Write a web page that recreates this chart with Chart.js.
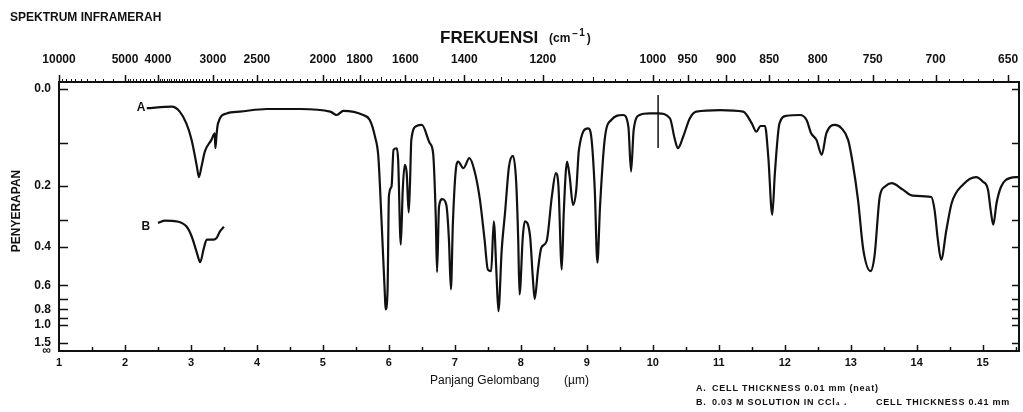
<!DOCTYPE html>
<html>
<head>
<meta charset="utf-8">
<script src="https://cdn.jsdelivr.net/npm/chart.js@4/dist/chart.umd.min.js"></script>
<style>
  html, body { margin: 0; padding: 0; background: #fff; }
  #wrap { width: 1023px; height: 412px; }
</style>
</head>
<body>
<div id="wrap"><canvas id="chart" width="1023" height="412"></canvas></div>
<script>
// curve A (neat): wavelength in um, transmittance in %
var wavelengthA = [
  2.33, 2.71, 2.83, 2.93, 3.01, 3.09, 3.12, 3.16, 3.21, 3.31,
  3.36, 3.37, 3.39, 3.41, 3.54, 3.74, 4.15, 4.65, 5.11, 5.21,
  5.31, 5.61, 5.71, 5.79, 5.84, 5.89, 5.94, 5.95, 5.98, 6.00,
  6.04, 6.07, 6.12, 6.14, 6.18, 6.21, 6.24, 6.27, 6.30, 6.32,
  6.34, 6.42, 6.50, 6.62, 6.67, 6.71, 6.73, 6.76, 6.81, 6.87,
  6.91, 6.94, 6.97, 7.02, 7.05, 7.13, 7.22, 7.30, 7.38, 7.45,
  7.50, 7.55, 7.59, 7.63, 7.66, 7.71, 7.76, 7.82, 7.88, 7.93,
  7.96, 7.98, 8.03, 8.06, 8.14, 8.18, 8.21, 8.26, 8.31, 8.39,
  8.47, 8.53, 8.57, 8.62, 8.65, 8.70, 8.74, 8.79, 8.84, 8.88,
  9.02, 9.07, 9.12, 9.16, 9.20, 9.27, 9.37, 9.55, 9.63, 9.67,
  9.71, 9.80, 9.95, 10.08, 10.26, 10.33, 10.38, 10.46, 10.56, 10.66,
  11.02, 11.37, 11.50, 11.57, 11.63, 11.70, 11.75, 11.81, 11.85, 11.92,
  12.03, 12.23, 12.33, 12.40, 12.48, 12.56, 12.63, 12.76, 12.86, 12.96,
  13.03, 13.11, 13.19, 13.30, 13.36, 13.44, 13.52, 13.62, 13.79, 13.94,
  14.22, 14.27, 14.32, 14.37, 14.45, 14.53, 14.70, 14.90, 15.00, 15.08,
  15.12, 15.16, 15.21, 15.28, 15.41, 15.55
];
var transA = [
  92.7, 93.3, 91.4, 86.9, 80.6, 70.4, 66.4, 70.4, 76.1, 80.6,
  83.1, 77.4, 83.2, 86.9, 90.7, 91.4, 92.4, 92.4, 91.4, 90.1,
  91.7, 90.1, 88.2, 81.8, 74.2, 48.9, 20.9, 15.9, 23.5, 59.0,
  62.8, 76.8, 77.4, 73.0, 40.6, 61.6, 71.1, 67.9, 52.9, 64.1,
  80.6, 85.9, 86.3, 79.3, 75.5, 51.4, 30.1, 55.2, 58.0, 55.8,
  42.5, 23.5, 48.9, 70.4, 72.3, 69.8, 73.6, 68.5, 57.7, 42.5,
  31.1, 30.5, 49.5, 29.8, 15.2, 38.7, 52.7, 70.4, 74.5, 64.1,
  42.5, 21.6, 43.8, 49.5, 43.8, 28.5, 19.9, 31.1, 39.4, 41.9,
  59.0, 67.9, 62.8, 31.1, 52.7, 72.3, 66.6, 55.8, 61.6, 76.8,
  85.0, 81.2, 61.6, 33.7, 55.2, 80.6, 88.2, 90.1, 85.6, 68.5,
  84.4, 90.1, 90.7, 90.7, 88.8, 81.2, 77.4, 81.8, 88.8, 91.4,
  92.0, 91.4, 86.9, 83.7, 85.9, 85.9, 74.2, 52.0, 67.9, 86.9,
  89.8, 90.1, 88.2, 83.1, 80.6, 74.9, 83.1, 86.3, 85.0, 80.6,
  71.7, 57.7, 38.7, 30.5, 36.2, 59.0, 62.8, 64.1, 61.6, 59.3,
  58.8, 53.9, 42.5, 34.9, 46.3, 56.5, 63.5, 66.4, 64.7, 61.6,
  53.9, 48.2, 56.5, 62.8, 66.0, 66.4
];

// curve B (CCl4 solution), 3 um region only
var wavelengthB = [2.50, 2.61, 2.78, 2.93, 3.01, 3.09, 3.14, 3.19, 3.24, 3.34, 3.39, 3.44, 3.50];
var transB = [48.9, 49.8, 49.5, 47.6, 43.8, 37.5, 33.9, 38.7, 42.5, 42.5, 43.2, 45.7, 47.4];

// vertical pen mark near 10 um
var markWavelength = [10.08, 10.08];
var markTrans = [97.7, 77.5];

// axes
var absTicks = [0, 0.1, 0.2, 0.3, 0.4, 0.6, 0.7, 0.8, 0.9, 1.0, 1.5, Infinity];
var absLabels = ['0.0', '', '0.2', '', '0.4', '0.6', '', '0.8', '', '1.0', '1.5', '\u221e'];
var micronTicks = [1, 2, 3, 4, 5, 6, 7, 8, 9, 10, 11, 12, 13, 14, 15];
var freqLabels = [10000, 5000, 4000, 3000, 2500, 2000, 1800, 1600, 1400, 1200, 1000, 950, 900, 850, 800, 750, 700, 650];

var ink = '#111';
var font = '"Liberation Sans", Arial, sans-serif';

function toT(a){ return a === Infinity ? 0 : 100 * Math.pow(10, -a); }

function points(xs, ys){
  return xs.map(function(x, i){ return {x: x, y: ys[i]}; });
}

function minorFreqs(){
  var t = [], f;
  for (f = 10000; f > 5000; f -= 500) t.push(f);
  for (f = 5000; f > 4000; f -= 100) t.push(f);
  for (f = 4000; f > 2000; f -= 50) t.push(f);
  for (f = 2000; f > 1000; f -= 20) t.push(f);
  for (f = 1000; f >= 640; f -= 10) t.push(f);
  return t;
}

function noSidePadding(s){
  s.paddingLeft = 0;
  s.paddingRight = 0;
}

var xMin = 1, xMax = 15.55;

var framePlugin = {
  id: 'frame',
  afterDraw: function(chart){
    var ctx = chart.ctx, a = chart.chartArea;
    var xs = chart.scales.x, ys = chart.scales.y;
    ctx.save();
    ctx.strokeStyle = ink;
    ctx.fillStyle = ink;
    ctx.lineWidth = 2;
    ctx.strokeRect(a.left, a.top, a.right - a.left, a.bottom - a.top);
    ctx.lineWidth = 1.5;

    // absorbance ticks, inward on both sides
    absTicks.forEach(function(v){
      if (v === Infinity) return;
      var y = Math.round(ys.getPixelForValue(toT(v))) + 0.5;
      ctx.beginPath();
      ctx.moveTo(a.left, y); ctx.lineTo(a.left + 9, y);
      ctx.moveTo(a.right, y); ctx.lineTo(a.right - 7, y);
      ctx.stroke();
    });

    // wavelength ticks on the bottom edge
    for (var w = 1.5; w < xMax; w += 0.5){
      var x = Math.round(xs.getPixelForValue(w)) + 0.5;
      var len = (w % 1 === 0) ? 6 : 4;
      ctx.beginPath(); ctx.moveTo(x, a.bottom); ctx.lineTo(x, a.bottom - len); ctx.stroke();
    }

    // frequency ruler on the top edge
    ctx.lineWidth = 1;
    minorFreqs().forEach(function(f){
      var lam = 10000 / f;
      if (lam < xMin || lam > xMax) return;
      var x = Math.round(xs.getPixelForValue(lam)) + 0.5;
      var len = (f <= 2000 && f >= 1000 && f % 100 === 0) || (f < 1000 && f % 50 === 0) ? 5 : 3;
      ctx.beginPath(); ctx.moveTo(x, a.top); ctx.lineTo(x, a.top - len); ctx.stroke();
    });
    ctx.lineWidth = 1.5;
    freqLabels.forEach(function(f){
      var x = Math.round(xs.getPixelForValue(10000 / f)) + 0.5;
      ctx.beginPath(); ctx.moveTo(x, a.top); ctx.lineTo(x, a.top - 7); ctx.stroke();
    });

    // texts
    ctx.textBaseline = 'middle';
    ctx.textAlign = 'left';
    ctx.font = 'bold 12px ' + font;
    ctx.fillText('SPEKTRUM INFRAMERAH', 10, 18);

    ctx.font = 'bold 17px ' + font;
    ctx.fillText('FREKUENSI', 440, 38);
    ctx.font = 'bold 12px ' + font;
    ctx.fillText('(cm', 549, 39);
    var cx = 549 + ctx.measureText('(cm').width + 2;
    ctx.font = 'bold 10px ' + font;
    ctx.fillText('\u2212', cx, 34);
    cx += ctx.measureText('\u2212').width + 1;
    ctx.fillText('1', cx, 33);
    cx += ctx.measureText('1').width + 2;
    ctx.font = 'bold 12px ' + font;
    ctx.fillText(')', cx, 39);

    ctx.font = '12px ' + font;
    ctx.fillText('Panjang Gelombang', 430, 381);
    ctx.fillText('(\u00b5m)', 564, 381);

    ctx.font = 'bold 9px ' + font;
    ctx.letterSpacing = '0.8px';
    ctx.fillText('A.', 696, 389);
    ctx.fillText('CELL THICKNESS 0.01 mm (neat)', 712, 389);
    ctx.fillText('B.', 696, 403);
    ctx.fillText('0.03 M SOLUTION IN CCl\u2084 .', 712, 403);
    ctx.fillText('CELL THICKNESS 0.41 mm', 876, 403);
    ctx.letterSpacing = '0px';

    ctx.font = 'bold 12px ' + font;
    ctx.textAlign = 'right';
    ctx.fillText('A', xs.getPixelForValue(2.31), ys.getPixelForValue(92.8));
    ctx.fillText('B', xs.getPixelForValue(2.38), ys.getPixelForValue(47.3));

    ctx.translate(17, 211);
    ctx.rotate(-Math.PI / 2);
    ctx.textAlign = 'center';
    ctx.font = 'bold 12px ' + font;
    ctx.fillText('PENYERAPAN', 0, 0);
    ctx.restore();
  }
};

var lineStyle = {
  showLine: true,
  borderColor: ink,
  borderWidth: 2.2,
  pointRadius: 0,
  fill: false,
  cubicInterpolationMode: 'monotone'
};

var tickFont = {family: font, size: 12, weight: 'bold'};
var noGrid = {display: false, drawTicks: false, tickLength: 0};

new Chart(document.getElementById('chart'), {
  type: 'scatter',
  data: {
    datasets: [
      Object.assign({label: 'A', data: points(wavelengthA, transA)}, lineStyle),
      Object.assign({label: 'B', data: points(wavelengthB, transB)}, lineStyle),
      Object.assign({label: 'mark', data: points(markWavelength, markTrans)}, lineStyle, {borderWidth: 1.5})
    ]
  },
  options: {
    responsive: false,
    animation: false,
    layout: {padding: {right: 4}},
    plugins: {legend: {display: false}, tooltip: {enabled: false}},
    scales: {
      x: {
        type: 'linear', position: 'bottom', min: xMin, max: xMax,
        afterBuildTicks: function(s){ s.ticks = micronTicks.map(function(v){ return {value: v}; }); },
        afterFit: function(s){ s.height = 61; noSidePadding(s); },
        grid: noGrid, border: {display: false},
        ticks: {
          color: ink, font: {family: font, size: 11, weight: 'bold'}, padding: 5,
          maxRotation: 0, autoSkip: false,
          callback: function(v){ return String(v); }
        }
      },
      x2: {
        type: 'linear', position: 'top', min: xMin, max: xMax,
        afterBuildTicks: function(s){ s.ticks = freqLabels.map(function(f){ return {value: 10000 / f}; }); },
        afterFit: function(s){ s.height = 82; noSidePadding(s); },
        grid: noGrid, border: {display: false},
        ticks: {
          color: ink, font: tickFont, padding: 15,
          maxRotation: 0, autoSkip: false,
          callback: function(v){ return String(Math.round(10000 / v)); }
        }
      },
      y: {
        type: 'linear', position: 'left', min: 0, max: 102.7,
        afterBuildTicks: function(s){ s.ticks = absTicks.map(function(a){ return {value: toT(a)}; }); },
        afterFit: function(s){ s.width = 59; },
        grid: noGrid, border: {display: false},
        ticks: {
          color: ink, font: tickFont, padding: 8, autoSkip: false,
          callback: function(v, i){ return absLabels[i]; }
        }
      }
    }
  },
  plugins: [framePlugin]
});
</script>
</body>
</html>
